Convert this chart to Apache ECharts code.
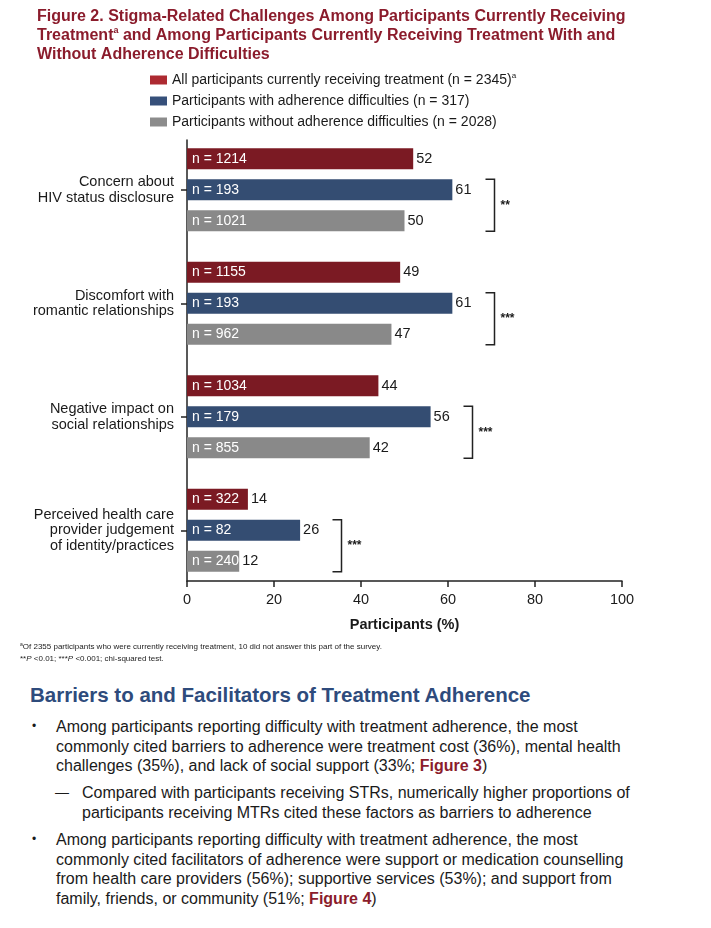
<!DOCTYPE html>
<html>
<head>
<meta charset="utf-8">
<script src="https://cdn.jsdelivr.net/npm/echarts@6/dist/echarts.min.js"></script>
<style>
  html, body { margin: 0; padding: 0; background: #fff; }
  body { width: 711px; height: 928px; position: relative; overflow: hidden;
         font-family: "Liberation Sans", Arial, sans-serif; color: #1a1a1a; }
  #chart { position: absolute; left: 0; top: 0; width: 711px; height: 640px; }
  .notes { position: absolute; left: 20px; top: 639px; font-size: 8px; line-height: 11.5px; color: #222; white-space: nowrap; }
  .notes sup { font-size: 5px; vertical-align: 3px; }
  h2 { position: absolute; left: 30px; top: 683px; margin: 0; font-size: 20.5px; line-height: 24px;
       font-weight: bold; color: #2e4b7c; white-space: nowrap; }
  .item { position: absolute; font-size: 16px; line-height: 19.5px; white-space: nowrap; }
  .item .mark { position: absolute; }
  .item b { color: #8b1c2c; }
</style>
</head>
<body>
<div id="chart"></div>

<div class="notes">
  <sup>a</sup>Of 2355 participants who were currently receiving treatment, 10 did not answer this part of the survey.<br>
  **<i>P</i> &lt;0.01; ***<i>P</i> &lt;0.001; chi-squared test.
</div>

<h2>Barriers to and Facilitators of Treatment Adherence</h2>

<div class="item" style="left:56px; top:717px;">
  <span class="mark" style="left:-24px; font-size:12px;">•</span>
  Among participants reporting difficulty with treatment adherence, the most<br>
  commonly cited barriers to adherence were treatment cost (36%), mental health<br>
  challenges (35%), and lack of social support (33%; <b>Figure 3</b>)
</div>
<div class="item" style="left:82px; top:783px;">
  <span class="mark" style="left:-27px; font-size:14px;">—</span>
  Compared with participants receiving STRs, numerically higher proportions of<br>
  participants receiving MTRs cited these factors as barriers to adherence
</div>
<div class="item" style="left:56px; top:830px;">
  <span class="mark" style="left:-24px; font-size:12px;">•</span>
  Among participants reporting difficulty with treatment adherence, the most<br>
  commonly cited facilitators of adherence were support or medication counselling<br>
  from health care providers (56%); supportive services (53%); and support from<br>
  family, friends, or community (51%; <b>Figure 4</b>)
</div>

<script>
// ---- data ----
const categories = [
  'Concern about\nHIV status disclosure',
  'Discomfort with\nromantic relationships',
  'Negative impact on\nsocial relationships',
  'Perceived health care\nprovider judgement\nof identity/practices'
];
const seriesNames = [
  'All participants currently receiving treatment (n = 2345)',
  'Participants with adherence difficulties (n = 317)',
  'Participants without adherence difficulties (n = 2028)'
];
const allPct = [52, 49, 44, 14];
const allN = [1214, 1155, 1034, 322];
const withPct = [61, 61, 56, 26];
const withN = [193, 193, 179, 82];
const withoutPct = [50, 47, 42, 12];
const withoutN = [1021, 962, 855, 240];
const significance = ['**', '***', '***', '***'];
const xTicks = [0, 20, 40, 60, 80, 100];

const barColors = ['#7b1a23', '#344d72', '#898989'];
const legendColors = ['#ad2a31', '#36507a', '#8c8c8c'];
const ink = '#1a1a1a';

const chart = echarts.init(document.getElementById('chart'));

const pcts = [allPct, withPct, withoutPct];
const ns = [allN, withN, withoutN];

// bars with the % value at the end
const valueBars = pcts.map((vals, k) => ({
  name: seriesNames[k],
  type: 'bar',
  xAxisIndex: 1, yAxisIndex: 1,
  barWidth: 21, barGap: '48%',
  itemStyle: { color: barColors[k] },
  label: { show: true, position: 'right', distance: 3, fontSize: 14.5, color: ink },
  data: vals
}));

// same bars, transparent, carrying the "n = ..." labels
const nBars = pcts.map((vals, k) => ({
  name: 'n' + k,
  type: 'bar',
  xAxisIndex: 2, yAxisIndex: 2,
  barWidth: 21, barGap: '48%',
  silent: true,
  itemStyle: { color: 'rgba(0,0,0,0)' },
  label: {
    show: true, position: 'insideLeft', distance: 5, fontSize: 14, color: '#fff',
    formatter: p => 'n = ' + ns[k][p.dataIndex]
  },
  data: vals
}));

// significance brackets between the two sub-groups
const brackets = {
  type: 'custom',
  xAxisIndex: 1, yAxisIndex: 1,
  silent: true,
  data: categories.map((c, i) => [Math.max(withPct[i], withoutPct[i]) + 9.5, i]),
  renderItem: function (params, api) {
    const p = api.coord([api.value(0), api.value(1)]);
    const x = Math.round(p[0]) + 0.5;
    const top = p[1] - 10.5, bottom = p[1] + 41.5;
    return {
      type: 'group',
      children: [{
        type: 'polyline',
        shape: { points: [[x - 9, top], [x, top], [x, bottom], [x - 9, bottom]] },
        style: { stroke: '#222', lineWidth: 1.5, fill: null }
      }, {
        type: 'text',
        style: {
          text: significance[params.dataIndex], x: x + 6, y: (top + bottom) / 2,
          fontSize: 12, fontWeight: 'bold', fill: ink, verticalAlign: 'middle'
        }
      }]
    };
  }
};

const gridBox = { left: 187, right: 89, outerBoundsMode: 'none', containLabel: false };

chart.setOption({
  animation: false,
  textStyle: { fontFamily: '"Liberation Sans", Arial, sans-serif' },
  title: {
    left: 37, top: 7, padding: 0,
    text: 'Figure 2. Stigma-Related Challenges Among Participants Currently Receiving\n' +
          'Treatment{sup|a} and Among Participants Currently Receiving Treatment With and\n' +
          'Without Adherence Difficulties',
    textStyle: {
      fontSize: 16, fontWeight: 'bold', color: '#8b1c2c', lineHeight: 19,
      rich: { sup: { fontSize: 9, fontWeight: 'bold', color: '#8b1c2c', verticalAlign: 'top', lineHeight: 8 } }
    }
  },
  legend: {
    orient: 'vertical', left: 150, top: 72, padding: 0,
    itemWidth: 17, itemHeight: 9, itemGap: 5,
    icon: 'rect',
    data: seriesNames.map((n, k) => ({ name: n, itemStyle: { color: legendColors[k] } })),
    formatter: n => n === seriesNames[0] ? n + '{sup|a}' : n,
    textStyle: {
      fontSize: 14, color: ink, lineHeight: 16,
      rich: { sup: { fontSize: 8, color: ink, verticalAlign: 'top', lineHeight: 8 } }
    }
  },
  grid: [
    Object.assign({ top: 140, bottom: 59 }, gridBox),   // axis frame
    Object.assign({ top: 133, bottom: 53 }, gridBox),   // bars
    Object.assign({ top: 133, bottom: 53 }, gridBox)    // n labels
  ],
  xAxis: [{
    gridIndex: 0, type: 'value', min: xTicks[0], max: xTicks[xTicks.length - 1], interval: 20,
    splitLine: { show: false },
    axisLine: { show: true, lineStyle: { color: '#222', width: 1.5 } },
    axisTick: { show: true, length: 6, lineStyle: { color: '#222', width: 1.5 } },
    axisLabel: { fontSize: 14.5, color: ink, margin: 11 },
    name: 'Participants (%)', nameLocation: 'middle', nameGap: 36,
    nameTextStyle: { fontSize: 14.5, fontWeight: 'bold', color: ink }
  }, {
    gridIndex: 1, type: 'value', min: 0, max: 100, show: false
  }, {
    gridIndex: 2, type: 'value', min: 0, max: 100, show: false
  }],
  yAxis: [{
    gridIndex: 0, type: 'category', data: categories, inverse: true,
    axisLine: { show: true, lineStyle: { color: '#222', width: 1.5 } },
    axisTick: { show: false }, axisLabel: { show: false }
  }, {
    gridIndex: 1, type: 'category', data: categories, inverse: true,
    axisLine: { show: false },
    axisTick: { show: true, alignWithLabel: true, length: 6, lineStyle: { color: '#222', width: 1.5 } },
    axisLabel: { fontSize: 14.5, color: ink, lineHeight: 15.5, margin: 13, align: 'right' }
  }, {
    gridIndex: 2, type: 'category', data: categories, inverse: true, show: false
  }],
  series: valueBars.concat(nBars, [brackets])
});
</script>
</body>
</html>
